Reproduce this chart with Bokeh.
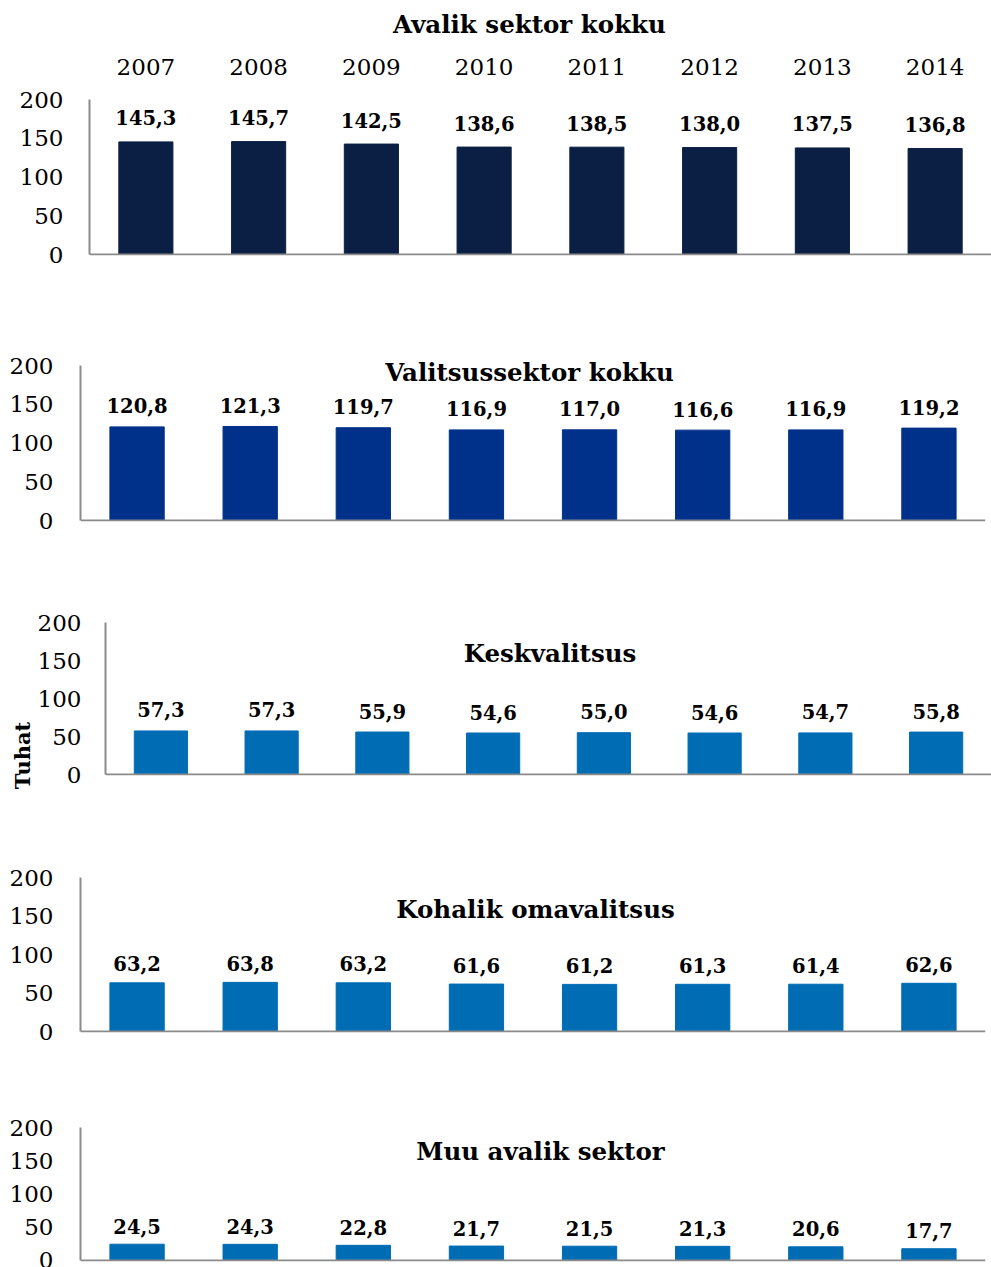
from bokeh.plotting import figure
from bokeh.layouts import column, row
from bokeh.models import FactorRange, Range1d, FixedTicker, Label, Span
from bokeh.core.properties import value
from bokeh.embed import file_html
from bokeh.resources import INLINE
import math

# ---------------- data ----------------
years = ["2007", "2008", "2009", "2010", "2011", "2012", "2013", "2014"]
avalik_sektor = [145.3, 145.7, 142.5, 138.6, 138.5, 138.0, 137.5, 136.8]
valitsussektor = [120.8, 121.3, 119.7, 116.9, 117.0, 116.6, 116.9, 119.2]
keskvalitsus = [57.3, 57.3, 55.9, 54.6, 55.0, 54.6, 54.7, 55.8]
kohalik_omavalitsus = [63.2, 63.8, 63.2, 61.6, 61.2, 61.3, 61.4, 62.6]
muu_avalik_sektor = [24.5, 24.3, 22.8, 21.7, 21.5, 21.3, 20.6, 17.7]
titles = ["Avalik sektor kokku", "Valitsussektor kokku", "Keskvalitsus",
          "Kohalik omavalitsus", "Muu avalik sektor"]
series = [avalik_sektor, valitsussektor, keskvalitsus, kohalik_omavalitsus, muu_avalik_sektor]
y_ticks = [0, 50, 100, 150, 200]
y_axis_title = "Tuhat"

# ---------------- styling / layout ----------------
FONT = "DejaVu Serif"
W = 991
AXIS_GREY = "#8a8a8a"
TUHAT_W = 34  # width of the strip holding the rotated axis title (panel 3)
# h: band height, fb: frame bottom (px from band top), s: px per unit,
# left/right: frame edges (absolute), tx/ty: title centre, off: label offset px
panels = [
    dict(h=300, fb=254, s=0.775, left=89, right=0, color="#0b1f44", tx=529, ty=24, off=24, so=26),
    dict(h=260, fb=220, s=0.775, left=80, right=6, color="#00318a", tx=529, ty=72, off=21, so=27),
    dict(h=255, fb=214, s=0.760, left=104, right=0, color="#006cb4", tx=549, ty=93, off=21, so=24),
    dict(h=255, fb=216, s=0.770, left=80, right=6, color="#006cb4", tx=535, ty=94, off=19, so=27),
    dict(h=197, fb=190, s=0.665, left=80, right=6, color="#006cb4", tx=540, ty=81, off=18, so=27),
]

def fmt(v):
    return f"{v:.1f}".replace(".", ",")

children = []
for i, (cfg, vals, title) in enumerate(zip(panels, series, titles)):
    fb, s = cfg["fb"], cfg["s"]
    x0 = TUHAT_W if i == 2 else 0  # where this figure starts horizontally
    p = figure(width=W - x0, height=cfg["h"], output_backend="svg", toolbar_location=None,
               x_range=FactorRange(*years, range_padding=0),
               y_range=Range1d(-1.0 / s, fb / s), title=None,
               min_border=0, min_border_left=cfg["left"] - x0, min_border_right=cfg["right"],
               min_border_top=0, min_border_bottom=cfg["h"] - fb - 1,
               frame_align=False)
    p.outline_line_color = None
    p.xgrid.visible = False
    p.ygrid.visible = False
    p.background_fill_color = "white"
    p.border_fill_color = "white"
    p.xaxis.visible = False

    p.vbar(x=years, top=vals, width=0.48, fill_color=cfg["color"], line_color=cfg["color"])

    # category axis baseline
    p.add_layout(Span(location=0, dimension="width", line_color=AXIS_GREY, line_width=2))

    p.text(x=years, y=vals, text=[fmt(v) for v in vals], y_offset=-cfg["off"],
           text_align="center", text_baseline="middle",
           text_font=value(FONT), text_font_style="bold", text_font_size="19.5px",
           text_color="black")

    # y axis
    ya = p.yaxis[0]
    ya.ticker = FixedTicker(ticks=y_ticks)
    ya.bounds = (0, 200)
    ya.major_tick_out = 0
    ya.major_tick_in = 0
    ya.minor_tick_out = 0
    ya.minor_tick_in = 0
    ya.axis_line_color = AXIS_GREY
    ya.axis_line_width = 2
    ya.major_label_standoff = cfg["so"]
    ya.major_label_text_font = FONT
    ya.major_label_text_font_size = "23px"
    ya.major_label_text_color = "black"

    frame_w = W - cfg["left"] - cfg["right"]
    centre = cfg["left"] + frame_w / 2
    p.add_layout(Label(x=len(years) / 2, y=(fb - cfg["ty"]) / s, text=title,
                       x_offset=cfg["tx"] - centre,
                       text_align="center", text_baseline="middle",
                       text_font=FONT, text_font_style="bold", text_font_size="24.5px",
                       text_color="black"))

    if i == 0:
        # year labels across the top
        p.text(x=years, y=(fb - 66) / s, text=years,
               text_align="center", text_baseline="middle",
               text_font=value(FONT), text_font_size="23px", text_color="black")

    if i == 2:
        pt = figure(width=TUHAT_W, height=cfg["h"], output_backend="svg", toolbar_location=None,
                    x_range=Range1d(0, TUHAT_W), y_range=Range1d(0, cfg["h"]), title=None,
                    min_border=0, frame_align=False)
        pt.outline_line_color = None
        pt.axis.visible = False
        pt.grid.visible = False
        pt.text(x=[22], y=[cfg["h"] - 195], text=[y_axis_title], angle=math.pi / 2,
                text_align="center", text_baseline="middle",
                text_font=value(FONT), text_font_style="bold", text_font_size="21px",
                text_color="black")
        children.append(row(pt, p, spacing=0))
    else:
        children.append(p)

layout = column(*children, spacing=0)
open("out.html", "w").write(file_html(layout, INLINE))
